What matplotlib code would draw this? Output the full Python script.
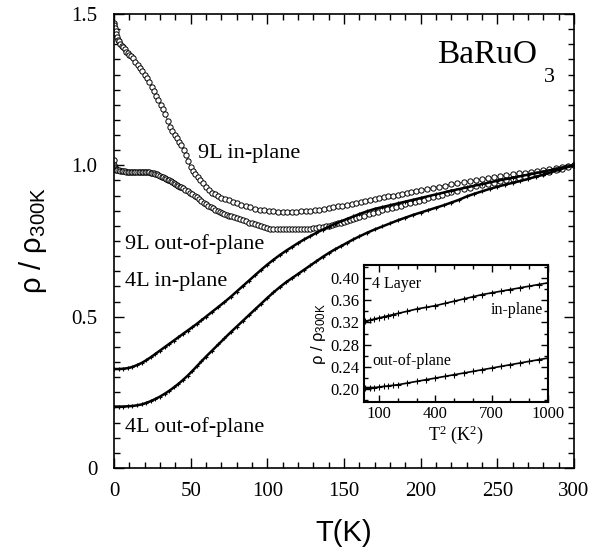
import numpy as np
import matplotlib
matplotlib.use('Agg')
import matplotlib.pyplot as plt
from matplotlib.ticker import MultipleLocator

plt.rcParams['font.family'] = 'Liberation Serif'
plt.rcParams['mathtext.default'] = 'regular'

# 9 layer, in-plane (open circles)
T_9L_in = [0, 0.3, 0.6, 1, 1.5, 2, 2.5, 3, 4, 5,
           6, 7, 8, 9, 10, 11, 12.5, 14, 15.5, 17,
           18.5, 20, 21.5, 23, 24.5, 26, 27.5, 29, 30.5, 32,
           33.5, 35, 36.5, 38, 39.5, 41, 42.5, 44, 45.5, 47,
           48.5, 50, 51.5, 53, 54.5, 56, 58, 60, 62, 64,
           66, 68, 70, 72.5, 75, 77.5, 80, 83, 86, 89,
           92, 95, 98, 101, 104, 107, 110, 113, 116, 119,
           122, 125, 128, 131, 134, 137, 140, 143, 146, 149,
           152, 155, 158, 161, 164, 167, 170, 173, 176, 179,
           182, 185, 188, 191, 194, 197, 200, 204, 208, 212,
           216, 220, 224, 228, 232, 236, 240, 244, 248, 252,
           256, 260, 264, 268, 272, 276, 280, 284, 288, 292,
           296, 300]
rho_9L_in = [1.47, 1.465, 1.455, 1.445, 1.435, 1.425, 1.415, 1.41, 1.40, 1.395,
             1.39, 1.383, 1.376, 1.37, 1.365, 1.36, 1.353, 1.342, 1.332, 1.32,
             1.31, 1.298, 1.287, 1.275, 1.26, 1.245, 1.23, 1.215, 1.20, 1.185,
             1.168, 1.148, 1.128, 1.115, 1.10, 1.09, 1.078, 1.066, 1.052, 1.035,
             1.013, 0.993, 0.98, 0.97, 0.96, 0.951, 0.94, 0.928, 0.918, 0.91,
             0.904, 0.898, 0.893, 0.888, 0.884, 0.88, 0.875, 0.87, 0.865, 0.861,
             0.857, 0.854, 0.851, 0.849, 0.848, 0.847, 0.846, 0.846, 0.846, 0.847,
             0.848, 0.849, 0.85, 0.852, 0.854, 0.856, 0.858, 0.861, 0.864, 0.867,
             0.87, 0.873, 0.876, 0.879, 0.882, 0.885, 0.888, 0.891, 0.894, 0.897,
             0.90, 0.903, 0.906, 0.909, 0.912, 0.915, 0.918, 0.922, 0.926, 0.93,
             0.933, 0.937, 0.94, 0.944, 0.947, 0.951, 0.954, 0.958, 0.961, 0.964,
             0.967, 0.97, 0.973, 0.976, 0.979, 0.982, 0.985, 0.988, 0.991, 0.994,
             0.997, 1.0]

# 9 layer, out-of-plane (open circles)
T_9L_out = [0, 0.2, 0.4, 0.7, 1, 1.5, 2, 3, 4, 5,
            6, 7, 8, 9, 10, 11, 12, 13, 14, 15,
            16, 17, 18, 19, 20, 21, 22, 23, 24, 25,
            26, 27, 28, 29, 30, 31, 32, 33, 34, 35,
            36, 37, 38, 39, 40, 41, 42, 43, 44, 45,
            46.5, 48, 49.5, 51, 52.5, 54, 55.5, 57, 58.5, 60,
            61.5, 63, 64.5, 66, 67.5, 69, 70.5, 72, 73.5, 75,
            76.5, 78, 80, 82, 84, 86, 88, 90, 92, 94,
            96, 98, 100, 102, 104, 106, 108, 110, 112, 114,
            116, 118, 120, 122, 124, 126, 128, 130, 132, 134,
            136, 138, 140, 142, 144, 146, 148, 150, 152, 154,
            156, 158, 160, 163, 166, 169, 172, 175, 178, 181,
            184, 187, 190, 193, 196, 199, 202, 205, 208, 211,
            214, 217, 220, 224, 228, 232, 236, 240, 244, 248,
            252, 256, 260, 264, 268, 272, 276, 280, 284, 288,
            292, 296, 300]
rho_9L_out = [1.017, 1.0, 0.995, 0.99, 0.988, 0.985, 0.984, 0.983, 0.982, 0.981,
              0.98, 0.98, 0.979, 0.979, 0.979, 0.979, 0.979, 0.979, 0.979, 0.979,
              0.979, 0.979, 0.979, 0.979, 0.979, 0.978, 0.978, 0.977, 0.976, 0.975,
              0.973, 0.972, 0.97, 0.968, 0.966, 0.963, 0.961, 0.958, 0.956, 0.953,
              0.951, 0.948, 0.945, 0.942, 0.939, 0.936, 0.933, 0.93, 0.927, 0.924,
              0.92, 0.915, 0.91, 0.905, 0.90, 0.894, 0.888, 0.882, 0.876, 0.871,
              0.866, 0.862, 0.858, 0.854, 0.85, 0.846, 0.843, 0.84, 0.837, 0.834,
              0.831, 0.828, 0.825, 0.821, 0.818, 0.815, 0.811, 0.808, 0.805, 0.802,
              0.799, 0.796, 0.793, 0.791, 0.79, 0.789, 0.788, 0.788, 0.788, 0.788,
              0.788, 0.788, 0.788, 0.789, 0.789, 0.79, 0.791, 0.792, 0.794, 0.795,
              0.797, 0.799, 0.801, 0.803, 0.806, 0.808, 0.811, 0.814, 0.817, 0.82,
              0.823, 0.826, 0.829, 0.834, 0.839, 0.843, 0.847, 0.851, 0.855, 0.859,
              0.863, 0.867, 0.871, 0.875, 0.879, 0.883, 0.887, 0.891, 0.895, 0.899,
              0.903, 0.907, 0.911, 0.916, 0.921, 0.926, 0.931, 0.935, 0.939, 0.943,
              0.947, 0.951, 0.955, 0.959, 0.963, 0.967, 0.971, 0.975, 0.979, 0.983,
              0.989, 0.994, 1.0]

# 4 layer, in-plane (crosses)
T_4L_in = [0, 3, 6, 9, 12, 15, 18, 21, 24, 27,
           30, 33, 36, 39, 42, 45, 48, 51, 54, 57,
           60, 64, 68, 72, 76, 80, 84, 88, 92, 96,
           100, 104, 108, 112, 116, 120, 124, 128, 132, 136,
           140, 144, 148, 152, 156, 160, 165, 170, 175, 180,
           185, 190, 195, 200, 210, 220, 230, 240, 250, 260,
           270, 280, 290, 300]
rho_4L_in = [0.327, 0.327, 0.328, 0.33, 0.334, 0.34, 0.347, 0.356, 0.366, 0.377,
             0.388, 0.399, 0.41, 0.421, 0.432, 0.443, 0.454, 0.465, 0.476, 0.488,
             0.50, 0.516, 0.532, 0.548, 0.565, 0.583, 0.601, 0.619, 0.637, 0.655,
             0.672, 0.688, 0.703, 0.717, 0.73, 0.743, 0.755, 0.766, 0.777, 0.787,
             0.797, 0.806, 0.815, 0.823, 0.831, 0.839, 0.848, 0.856, 0.862, 0.868,
             0.874, 0.88, 0.886, 0.892, 0.904, 0.916, 0.927, 0.938, 0.949, 0.959,
             0.969, 0.979, 0.99, 1.0]

# 4 layer, out-of-plane (crosses)
T_4L_out = [0, 3, 6, 9, 12, 15, 18, 21, 24, 27,
            30, 33, 36, 39, 42, 45, 48, 51, 54, 57,
            60, 64, 68, 72, 76, 80, 84, 88, 92, 96,
            100, 104, 108, 112, 116, 120, 124, 128, 132, 136,
            140, 144, 148, 152, 156, 160, 165, 170, 175, 180,
            185, 190, 195, 200, 205, 210, 215, 220, 225, 230,
            235, 240, 245, 250, 255, 260, 265, 270, 275, 280,
            285, 290, 295, 300]
rho_4L_out = [0.203, 0.203, 0.203, 0.204, 0.205, 0.207, 0.21, 0.215, 0.221, 0.228,
              0.236, 0.245, 0.255, 0.266, 0.278, 0.291, 0.305, 0.32, 0.336, 0.352,
              0.368, 0.388, 0.408, 0.428, 0.448, 0.467, 0.486, 0.505, 0.524, 0.543,
              0.562, 0.58, 0.597, 0.613, 0.627, 0.641, 0.655, 0.669, 0.683, 0.697,
              0.71, 0.722, 0.733, 0.744, 0.755, 0.765, 0.777, 0.788, 0.798, 0.808,
              0.818, 0.827, 0.836, 0.844, 0.852, 0.86, 0.868, 0.877, 0.886, 0.897,
              0.906, 0.914, 0.922, 0.929, 0.936, 0.942, 0.948, 0.955, 0.962, 0.969,
              0.977, 0.985, 0.993, 1.0]

# inset: 4 layer vs T^2
T2_inset = [25, 50, 75, 100, 125, 150, 175, 200, 250, 300, 350, 400, 450, 500, 550, 600,
            650, 700, 750, 800, 850, 900, 950, 1000]
rho_in_inset = [0.322, 0.324, 0.326, 0.328, 0.33, 0.332, 0.334, 0.336, 0.34, 0.344, 0.347,
                0.35, 0.354, 0.358, 0.362, 0.366, 0.37, 0.373, 0.376, 0.379, 0.382, 0.385,
                0.388, 0.391]
rho_out_inset = [0.203, 0.203, 0.203, 0.204, 0.205, 0.206, 0.207, 0.208, 0.211, 0.214,
                 0.217, 0.22, 0.223, 0.226, 0.229, 0.232, 0.235, 0.238, 0.241, 0.244,
                 0.247, 0.25, 0.253, 0.256]

fig = plt.figure(figsize=(6.02, 5.48), dpi=100)
ax = fig.add_axes([0.1894, 0.146, 0.764, 0.8285])

circ = dict(color='k', lw=0.5, marker='o', ms=3.8, mfc='white', mec='k', mew=0.7)
cross = dict(color='k', lw=1.8, marker='+', ms=3.5, mew=0.8)
ax.plot(T_9L_in, rho_9L_in, **circ)
ax.plot(T_9L_out, rho_9L_out, **circ)
ax.plot(T_4L_in, rho_4L_in, **cross)
ax.plot(T_4L_out, rho_4L_out, **cross)

ax.set_xlim(0, 300)
ax.set_ylim(0, 1.5)
ax.xaxis.set_major_locator(MultipleLocator(50))
ax.xaxis.set_minor_locator(MultipleLocator(10))
ax.set_yticks([0, 0.5, 1.0, 1.5])
ax.set_yticklabels(['0', '0.5', '1.0', '1.5'])
ax.yaxis.set_minor_locator(MultipleLocator(0.05))
ax.tick_params(which='both', direction='in', top=True, right=True, labelsize=15, width=1)
ax.tick_params(which='major', length=7)
ax.tick_params(axis='x', which='major', pad=10)
ax.tick_params(axis='y', which='major', pad=12)
ax.tick_params(which='minor', length=4)
for s in ax.spines.values():
    s.set_linewidth(1.2)

ax.set_xlabel('T(K)', family='Liberation Sans', fontsize=21, labelpad=13)
ax.set_ylabel(r'ρ / ρ$_{300K}$', family='Liberation Sans', fontsize=21, labelpad=16)

ax.text(54.8, 1.024, '9L in-plane', fontsize=16)
ax.text(7.2, 0.725, '9L out-of-plane', fontsize=16)
ax.text(7.2, 0.60, '4L in-plane', fontsize=16)
ax.text(7.2, 0.119, '4L out-of-plane', fontsize=16)
ax.text(210.5, 1.338, 'BaRuO', fontsize=24)
ax.text(280.5, 1.275, '3', fontsize=16)

# inset
ax2 = fig.add_axes([0.6047, 0.2664, 0.3056, 0.25])
ax2.plot(T2_inset, rho_in_inset, color='k', lw=1.2, marker='+', ms=4, mew=0.8)
ax2.plot(T2_inset, rho_out_inset, color='k', lw=1.2, marker='+', ms=4, mew=0.8)
ax2.set_xlim(20, 1000)
ax2.set_ylim(0.177, 0.423)
ax2.set_xticks([100, 400, 700, 1000])
ax2.xaxis.set_minor_locator(MultipleLocator(100))
ax2.set_yticks([0.20, 0.24, 0.28, 0.32, 0.36, 0.40])
ax2.set_yticklabels(['0.20', '0.24', '0.28', '0.32', '0.36', '0.40'])
ax2.yaxis.set_minor_locator(MultipleLocator(0.02))
ax2.tick_params(which='both', direction='in', top=True, right=True, labelsize=12, width=1)
ax2.tick_params(which='major', length=5, pad=3)
ax2.tick_params(which='minor', length=3)
for s in ax2.spines.values():
    s.set_linewidth(1.5)
ax2.set_xlabel(r'T$^2$ (K$^2$)', fontsize=13, labelpad=1)
ax2.set_ylabel(r'ρ / ρ$_{300K}$', family='Liberation Sans', fontsize=12, labelpad=2)
ax2.text(0.045, 0.83, '4 Layer', transform=ax2.transAxes, fontsize=11.5)
ax2.text(0.97, 0.64, 'in-plane', transform=ax2.transAxes, fontsize=11.5, ha='right')
ax2.text(0.045, 0.27, 'out-of-plane', transform=ax2.transAxes, fontsize=11.5)

fig.savefig('out.png', dpi=100)
